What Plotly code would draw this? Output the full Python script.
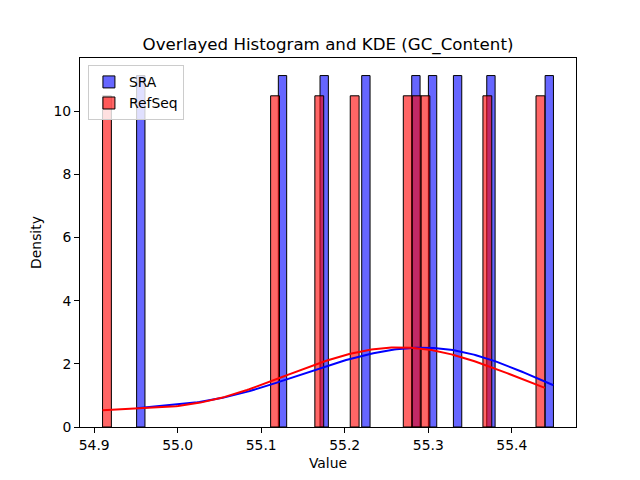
import numpy as np
import plotly.graph_objects as go

# Values
sra_values = [54.9508, 55.1259, 55.1760, 55.2255, 55.2855, 55.3059, 55.3359, 55.3755, 55.4499]
refseq_values = [54.9100, 55.1160, 55.1685, 55.2117, 55.2756, 55.2858, 55.2960, 55.3704, 55.4396]
series_names = ["SRA", "RefSeq"]
fill_colors = ["rgba(0,0,255,0.6)", "rgba(255,0,0,0.6)"]
line_colors = ["blue", "red"]
x_ticks = [54.9, 55.0, 55.1, 55.2, 55.3, 55.4]
y_ticks = [0, 2, 4, 6, 8, 10]
n_bins = 50


def kde(values, grid):
    v = np.asarray(values)
    bw = v.std(ddof=0) * len(v) ** (-1 / 5)
    z = (grid[:, None] - v[None, :]) / bw
    return np.exp(-0.5 * z ** 2).sum(axis=1) / (len(v) * bw * np.sqrt(2 * np.pi))


fig = go.Figure()
all_vals = []
for name, vals, fc in zip(series_names, [sra_values, refseq_values], fill_colors):
    dens, edges = np.histogram(vals, bins=n_bins, density=True)
    centers = (edges[:-1] + edges[1:]) / 2
    width = edges[1] - edges[0]
    mask = dens > 0
    fig.add_trace(go.Bar(
        x=centers[mask], y=dens[mask], width=width, name=name,
        marker=dict(color=fc, line=dict(color="black", width=1)),
    ))
    all_vals += list(vals)

for name, vals, lc in zip(series_names, [sra_values, refseq_values], line_colors):
    grid = np.linspace(min(vals), max(vals), 200)
    fig.add_trace(go.Scatter(
        x=grid, y=kde(vals, grid), mode="lines", showlegend=False,
        line=dict(color=lc, width=2),
    ))

lo, hi = min(all_vals), max(all_vals)
pad = 0.05 * (hi - lo)
ymax = max(np.histogram(v, bins=n_bins, density=True)[0].max() for v in [sra_values, refseq_values]) * 1.05

fig.update_layout(
    width=640, height=480,
    margin=dict(l=80, r=64, t=58, b=53),
    paper_bgcolor="white", plot_bgcolor="white",
    barmode="overlay",
    font=dict(family="DejaVu Sans", size=13.9, color="black"),
    title=dict(text="Overlayed Histogram and KDE (GC_Content)", x=0.5, xanchor="center",
               xref="paper", y=1 - 44 / 480, yref="container", yanchor="middle",
               font=dict(size=16.67)),
    legend=dict(x=0.016, y=0.98, xanchor="left", yanchor="top",
                bgcolor="rgba(255,255,255,0.8)", bordercolor="#cccccc", borderwidth=1,
                font=dict(size=13.9), tracegroupgap=0),
    showlegend=True,
)
fig.update_xaxes(
    range=[lo - pad, hi + pad], tickvals=x_ticks, ticktext=[f"{t:.1f}" for t in x_ticks],
    showline=True, linecolor="black", linewidth=1, mirror=True,
    ticks="outside", ticklen=5, tickcolor="black", showgrid=False, zeroline=False,
    title=dict(text="Value", standoff=6, font=dict(size=13.9)),
)
fig.update_yaxes(
    range=[0, ymax], tickvals=y_ticks,
    showline=True, linecolor="black", linewidth=1, mirror=True,
    ticks="outside", ticklen=5, tickcolor="black", showgrid=False, zeroline=False,
    title=dict(text="Density", standoff=8, font=dict(size=13.9)),
)

fig.write_html("out.html")
